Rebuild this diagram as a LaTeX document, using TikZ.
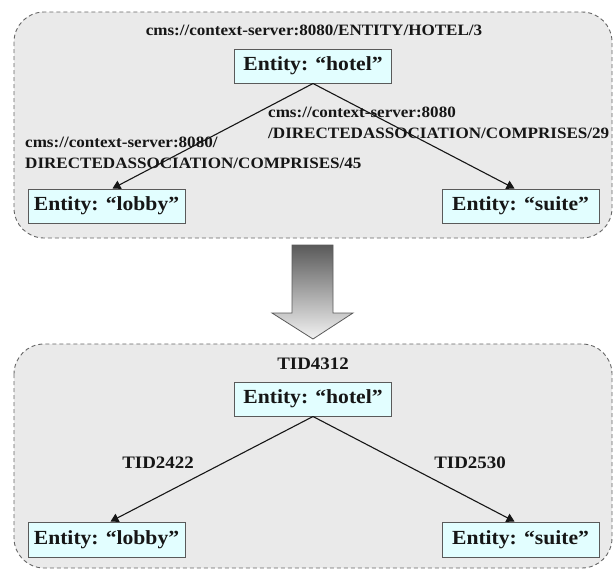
\documentclass[tikz,border=0pt]{standalone}
\usepackage{fontspec}
\setmainfont{Liberation Serif}[FakeStretch=1.08]
\usetikzlibrary{arrows.meta,calc}
\definecolor{panelfill}{HTML}{EAEAEA}
\definecolor{panelline}{HTML}{666666}
\definecolor{entityfill}{HTML}{E2FEFF}
\definecolor{entityline}{HTML}{5A5A5A}
\definecolor{ink}{HTML}{161616}
\definecolor{shafttop}{HTML}{5A5A5A}
\definecolor{shaftbottom}{HTML}{F2F2F2}

\begin{document}
\begin{tikzpicture}[x=1pt,y=-1pt,
  panel/.style={draw=panelline, fill=panelfill, dash pattern=on 4pt off 3pt,
    line width=0.9pt, rounded corners=30pt},
  entity/.style={draw=entityline, fill=entityfill, line width=1pt,
    minimum width=157pt, minimum height=34pt, inner sep=0pt,
    font=\bfseries\fontsize{20}{24}\selectfont, text=ink},
  caption/.style={font=\bfseries\fontsize{15.8}{20.5}\selectfont, text=ink,
    inner sep=0pt, align=left},
  tid/.style={font=\bfseries\fontsize{17.5}{20}\selectfont, text=ink, inner sep=0pt},
  link/.style={draw=ink, line width=1.1pt, -{Triangle[length=8pt,width=9pt]}},
]
\useasboundingbox (0,0) rectangle (615,570);

% the two dashed panels
\draw[panel] (14,12) rectangle (612,238);
\draw[panel] (14,344) rectangle (612,568);

% upper panel: URI-based identifiers
\node[caption] (uri) at (314,30) {cms://context-server:8080/ENTITY/HOTEL/3};
\node[entity] (hotelA) at (313,66) {Entity: “hotel”};
\node[entity] (lobbyA) at (106.5,206) {Entity: “lobby”};
\node[entity] (suiteA) at (520.5,206) {Entity: “suite”};
\node[caption, anchor=west] (relL) at (25,153)
  {cms://context-server:8080/\\DIRECTEDASSOCIATION/COMPRISES/45};
\node[caption, anchor=west] (relR) at (268,123)
  {cms://context-server:8080\\/DIRECTEDASSOCIATION/COMPRISES/29};
\draw[link] (hotelA.south) -- ($(lobbyA.north)+(6,0)$);
\draw[link] (hotelA.south) -- ($(suiteA.north)+(-6,0)$);

% transformation arrow
\draw[draw=entityline, line width=0.8pt, top color=shafttop, bottom color=shaftbottom]
  (292,245) -- (333,245) -- (333,313) -- (353,313) -- (313,339)
  -- (272,313) -- (292,313) -- cycle;

% lower panel: transaction identifiers
\node[tid] (tidTop) at (313,364) {TID4312};
\node[entity] (hotelB) at (313,399) {Entity: “hotel”};
\node[entity, minimum height=35pt] (lobbyB) at (106.5,539.5) {Entity: “lobby”};
\node[entity, minimum height=35pt] (suiteB) at (520.5,539.5) {Entity: “suite”};
\node[tid] (tidL) at (158,463) {TID2422};
\node[tid] (tidR) at (470,463) {TID2530};
\draw[link] (hotelB.south) -- ($(lobbyB.north)+(4,0)$);
\draw[link] (hotelB.south) -- ($(suiteB.north)+(-6,0)$);
\end{tikzpicture}
\end{document}
